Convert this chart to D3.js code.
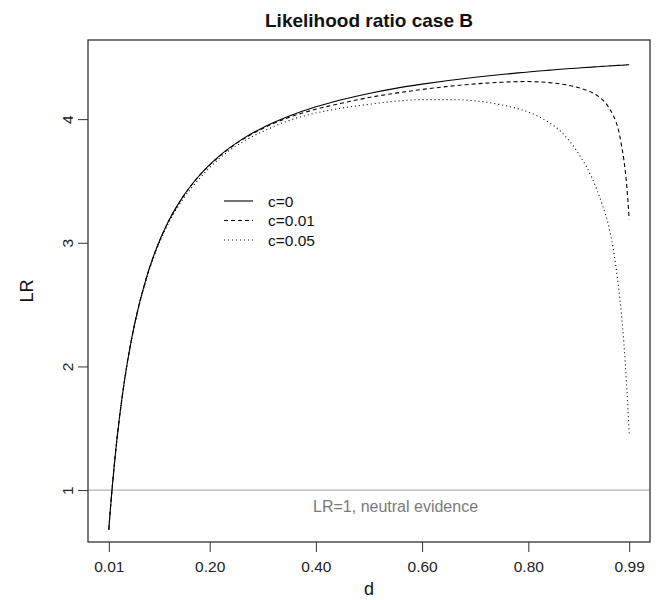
<!DOCTYPE html>
<html>
<head>
<meta charset="utf-8">
<script src="https://cdn.jsdelivr.net/npm/d3@7"></script>
<style>
  body { margin: 0; background: #fff; }
  svg { display: block; font-family: "Liberation Sans", Arial, Helvetica, sans-serif; }
</style>
</head>
<body>
<svg id="chart" width="656" height="600"></svg>
<script>
// ---- data ----
const dValues = [0.01, 0.012, 0.015, 0.02, 0.025, 0.03, 0.04, 0.05, 0.06, 0.08, 0.10, 0.12, 0.15, 0.18, 0.22, 0.26, 0.30, 0.35, 0.40, 0.45, 0.50, 0.55, 0.60, 0.65, 0.70, 0.75, 0.78, 0.80, 0.82, 0.84, 0.86, 0.88, 0.90, 0.92, 0.93, 0.94, 0.95, 0.96, 0.965, 0.97, 0.975, 0.98, 0.985, 0.99];
const lrC0 = [0.68, 0.795, 0.953, 1.19, 1.40, 1.585, 1.90, 2.157, 2.371, 2.706, 2.958, 3.153, 3.375, 3.542, 3.709, 3.834, 3.931, 4.025, 4.10, 4.159, 4.208, 4.249, 4.283, 4.313, 4.339, 4.361, 4.374, 4.381, 4.389, 4.396, 4.403, 4.409, 4.415, 4.421, 4.424, 4.427, 4.43, 4.432, 4.434, 4.435, 4.436, 4.437, 4.439, 4.44];
const lrC001 = [0.68, 0.795, 0.953, 1.19, 1.40, 1.585, 1.90, 2.157, 2.37, 2.705, 2.957, 3.152, 3.373, 3.54, 3.705, 3.83, 3.925, 4.015, 4.08, 4.13, 4.175, 4.21, 4.24, 4.265, 4.285, 4.298, 4.303, 4.304, 4.301, 4.295, 4.285, 4.27, 4.248, 4.215, 4.19, 4.155, 4.105, 4.03, 3.98, 3.91, 3.80, 3.67, 3.48, 3.19];
const lrC005 = [0.68, 0.795, 0.952, 1.188, 1.398, 1.582, 1.895, 2.15, 2.362, 2.695, 2.945, 3.138, 3.355, 3.515, 3.69, 3.81, 3.90, 3.99, 4.05, 4.09, 4.12, 4.145, 4.158, 4.158, 4.148, 4.115, 4.085, 4.058, 4.02, 3.97, 3.905, 3.81, 3.685, 3.525, 3.42, 3.30, 3.16, 2.95, 2.81, 2.64, 2.44, 2.19, 1.86, 1.46];
const seriesNames = ["c=0", "c=0.01", "c=0.05"];
const xTickValues = [0.01, 0.20, 0.40, 0.60, 0.80, 0.99];
const xTickLabels = ["0.01", "0.20", "0.40", "0.60", "0.80", "0.99"];
const yTickValues = [1, 2, 3, 4];
const neutralValue = 1;
const neutralLabel = "LR=1, neutral evidence";
const neutralLabelD = 0.55;

// ---- layout ----
const svg = d3.select("#chart");
const pLeft = 88, pRight = 650, pTop = 40, pBottom = 542;
const x = d3.scaleLinear().domain([-0.0292, 1.0292]).range([pLeft, pRight]);
const y = d3.scaleLinear().domain([0.58, 4.64]).range([pBottom, pTop]);

const dashes = [null, "4,3", "1,3"];
const seriesData = [lrC0, lrC001, lrC005];

svg.append("defs").append("clipPath").attr("id", "plotclip")
  .append("rect").attr("x", pLeft).attr("y", pTop).attr("width", pRight - pLeft).attr("height", pBottom - pTop);

// neutral line
svg.append("line")
  .attr("x1", pLeft).attr("x2", pRight)
  .attr("y1", y(neutralValue)).attr("y2", y(neutralValue))
  .attr("stroke", "#b4b4b4").attr("stroke-width", 1.2);

svg.append("text")
  .attr("x", x(neutralLabelD)).attr("y", y(neutralValue) + 22)
  .attr("text-anchor", "middle").attr("font-size", 16).attr("fill", "#7a7a7a")
  .text(neutralLabel);

// curves
const line = d3.line().x((d, i) => x(dValues[i])).y(d => y(d)).curve(d3.curveMonotoneX);
const g = svg.append("g").attr("clip-path", "url(#plotclip)");
seriesData.forEach((s, k) => {
  g.append("path").datum(s)
    .attr("d", line)
    .attr("fill", "none").attr("stroke", "#000").attr("stroke-width", 1.1)
    .attr("stroke-dasharray", dashes[k]);
});

// box
svg.append("rect").attr("x", pLeft).attr("y", pTop).attr("width", pRight - pLeft).attr("height", pBottom - pTop)
  .attr("fill", "none").attr("stroke", "#333").attr("stroke-width", 1.3);

// x axis
const xAxis = d3.axisBottom(x).tickValues(xTickValues).tickFormat((d, i) => xTickLabels[i]).tickSize(10).tickPadding(6);
const xa = svg.append("g").attr("transform", `translate(0,${pBottom})`).call(xAxis);
xa.select(".domain").remove();
xa.selectAll("line").attr("stroke", "#333");
xa.selectAll("text").attr("font-size", 15.5).attr("fill", "#222").attr("font-family", "Liberation Sans, Arial, sans-serif")
  .attr("dy", null).attr("y", 30);

// y axis
const yAxis = d3.axisLeft(y).tickValues(yTickValues).tickFormat(d3.format("d")).tickSize(10);
const ya = svg.append("g").attr("transform", `translate(${pLeft},0)`).call(yAxis);
ya.select(".domain").remove();
ya.selectAll("line").attr("stroke", "#333");
ya.selectAll("text")
  .attr("x", null).attr("dy", null).attr("font-size", 15.5).attr("fill", "#222")
  .attr("font-family", "Liberation Sans, Arial, sans-serif")
  .attr("text-anchor", "middle")
  .attr("transform", "translate(-15,0) rotate(-90)");

// titles
svg.append("text").attr("x", (pLeft + pRight) / 2).attr("y", 27).attr("text-anchor", "middle")
  .attr("font-size", 19).attr("font-weight", "bold").attr("fill", "#111").text("Likelihood ratio case B");
svg.append("text").attr("x", (pLeft + pRight) / 2).attr("y", 595).attr("text-anchor", "middle")
  .attr("font-size", 18).attr("fill", "#111").text("d");
svg.append("text").attr("transform", `translate(33,${(pTop + pBottom) / 2}) rotate(-90)`).attr("text-anchor", "middle")
  .attr("font-size", 18).attr("fill", "#111").text("LR");

// legend
const lg = svg.append("g").attr("transform", "translate(224,201)");
seriesNames.forEach((name, k) => {
  const row = lg.append("g").attr("transform", `translate(0,${k * 19.5})`);
  row.append("line").attr("x1", 0).attr("x2", 29).attr("y1", 0).attr("y2", 0)
    .attr("stroke", "#000").attr("stroke-width", 1.1).attr("stroke-dasharray", dashes[k]);
  row.append("text").attr("x", 44).attr("y", 5.5).attr("font-size", 15.5).attr("fill", "#111").text(name);
});
</script>
</body>
</html>
